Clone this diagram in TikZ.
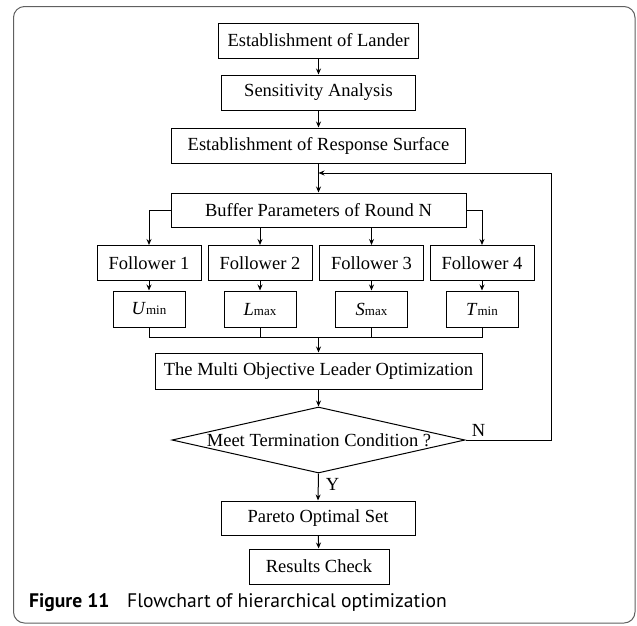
\documentclass[tikz,border=0pt]{standalone}
\usepackage{fontspec}
\setmainfont{Liberation Serif}
\newfontfamily\capfont{PT Sans}
\usetikzlibrary{shapes.geometric,arrows.meta}
\tikzset{
  box/.style={draw, line width=1pt, inner sep=0pt, font=\fontsize{18.5}{20}\selectfont, anchor=center},
  arr/.style={line width=1pt, -{Stealth[length=6pt,width=5pt]}},
  ln/.style={line width=1pt},
  lbl/.style={font=\fontsize{18.5}{20}\selectfont, inner sep=0pt}
}
\newcommand{\smallsub}[1]{{\fontsize{13}{13}\selectfont #1}}
\begin{document}
\begin{tikzpicture}[x=1pt,y=-1pt]
\useasboundingbox (0,0) rectangle (637,625);
\draw[gray!75!black, line width=1pt, rounded corners=11pt] (13.5,6.5) rectangle (635,623);
\node[box, minimum width=200pt, minimum height=35pt] (lander) at (318.5,40.5) {Establishment of Lander};
\node[box, minimum width=194pt, minimum height=35pt] (sens) at (318.5,92.5) {Sensitivity Analysis};
\node[box, minimum width=294pt, minimum height=35pt] (resp) at (318.5,145.5) {Establishment of Response Surface};
\node[box, minimum width=295pt, minimum height=34pt] (buf) at (318.5,210) {Buffer Parameters of Round N};
\node[box, minimum width=104pt, minimum height=35pt] (f1) at (149,263) {Follower 1};
\node[box, minimum width=104pt, minimum height=35pt] (f2) at (260,263) {Follower 2};
\node[box, minimum width=104pt, minimum height=35pt] (f3) at (371.5,263) {Follower 3};
\node[box, minimum width=104pt, minimum height=35pt] (f4) at (482,263) {Follower 4};
\node[box, minimum width=72pt, minimum height=36pt] (o1) at (149,309) {\textit{U}\smallsub{min}};
\node[box, minimum width=72pt, minimum height=36pt] (o2) at (260,309) {\textit{L}\smallsub{max}};
\node[box, minimum width=72pt, minimum height=36pt] (o3) at (371.5,309) {\textit{S}\smallsub{max}};
\node[box, minimum width=72pt, minimum height=36pt] (o4) at (482,309) {\textit{T}\smallsub{min}};
\node[box, minimum width=327pt, minimum height=36pt] (multi) at (318.5,371) {The Multi Objective Leader Optimization};
\node[draw, line width=1pt, diamond, inner sep=0pt, minimum width=293pt, minimum height=66pt] (dia) at (318.5,440) {};
\node[lbl] (diatext) at (319,440) {Meet Termination Condition ?};
\node[box, minimum width=194pt, minimum height=34pt] (pareto) at (318,518) {Pareto Optimal Set};
\node[box, minimum width=140pt, minimum height=35pt] (check) at (319,566.5) {Results Check};
\coordinate (fb) at (318.5,173);
\coordinate (fbr) at (551,173);
\coordinate (join) at (318.5,337);
% arrows
\draw[arr] (lander) -- (sens);
\draw[arr] (sens) -- (resp);
\draw[arr] (resp) -- (buf);
\draw[arr] (buf.west) -| (f1.north);
\draw[arr] (buf.south -| f2) -- (f2.north);
\draw[arr] (buf.south -| f3) -- (f3.north);
\draw[arr] (buf.east) -| (f4.north);
\draw[arr] (f1) -- (o1);
\draw[arr] (f2) -- (o2);
\draw[arr] (f3) -- (o3);
\draw[arr] (f4) -- (o4);
\draw[ln] (o1.south) -- (o1.south |- join) -- (o4.south |- join) -- (o4.south);
\draw[ln] (o2.south) -- (o2.south |- join);
\draw[ln] (o3.south) -- (o3.south |- join);
\draw[arr] (join) -- (multi.north);
\draw[arr] (multi) -- (dia.north);
\draw[arr] (dia.south) -- node[lbl, anchor=west, xshift=7pt, pos=0.4] {Y} (pareto.north);
\draw[arr] (dia.east) -- (dia.east -| fbr) -- (fbr) -- (fb);
\node[lbl, anchor=south] at ([xshift=13pt,yshift=3pt]dia.east) {N};
\draw[arr] (pareto) -- (check);
% caption
\node[anchor=base west, inner sep=0pt, font=\capfont\bfseries\fontsize{19.6}{22}\selectfont] (fig) at (29,607) {Figure 11};
\node[anchor=base west, inner sep=0pt, font=\capfont\fontsize{19.6}{22}\selectfont] (cap) at (127,607) {Flowchart of hierarchical optimization};
\end{tikzpicture}
\end{document}
